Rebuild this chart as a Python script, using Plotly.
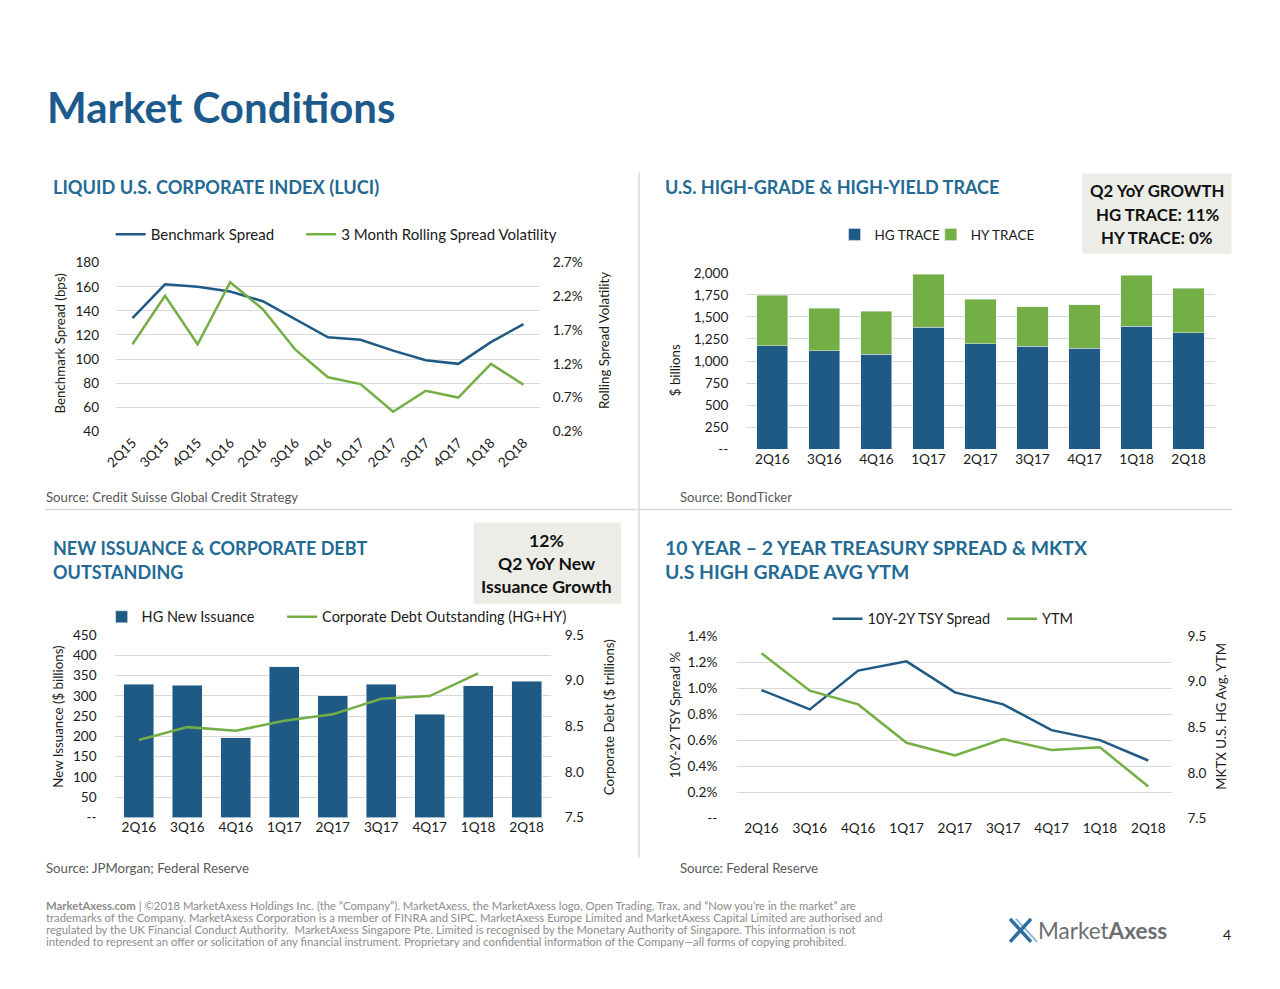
import plotly.graph_objects as go

W, H = 1280, 989
# empirical compensation of the page offset/scale seen in the rendered screenshot
AX, SX = 22.6, 0.988
AY, SY = 19.1, 0.9806
def px(x): return ((x - AX) / SX) / W
def py(y): return 1 - ((y - AY) / SY) / H

FONT = "Lato"
BLUE = "#1F5A85"
GREEN = "#74AF45"
GRID = "#D9D9D9"
HEAD = "#236A94"
TXT = "#1A1A1A"

# ---------------- data ----------------
luci_q = ["2Q15", "3Q15", "4Q15", "1Q16", "2Q16", "3Q16", "4Q16", "1Q17", "2Q17", "3Q17", "4Q17", "1Q18", "2Q18"]
benchmark_spread = [134, 162, 160, 156, 148, 133, 118, 116, 107, 99, 96, 114, 129]
rolling_vol = [1.49, 2.21, 1.49, 2.41, 2.01, 1.41, 1.00, 0.90, 0.49, 0.80, 0.70, 1.20, 0.89]

q9 = ["2Q16", "3Q16", "4Q16", "1Q17", "2Q17", "3Q17", "4Q17", "1Q18", "2Q18"]
hg_trace = [1174, 1117, 1076, 1383, 1193, 1167, 1144, 1394, 1322]
hy_trace = [572, 481, 488, 598, 504, 450, 492, 579, 504]

hg_issuance = [329, 326, 196, 372, 300, 328, 255, 325, 336]
corp_debt = [8.35, 8.49, 8.45, 8.56, 8.63, 8.80, 8.83, 9.08, None]

tsy_spread = [0.985, 0.837, 1.134, 1.205, 0.967, 0.875, 0.678, 0.601, 0.445]
ytm = [9.31, 8.90, 8.75, 8.33, 8.19, 8.37, 8.25, 8.28, 7.85]

luci_left_ticks = [40, 60, 80, 100, 120, 140, 160, 180]
luci_right_ticks = [0.2, 0.7, 1.2, 1.7, 2.2, 2.7]
trace_ticks = [0, 250, 500, 750, 1000, 1250, 1500, 1750, 2000]
iss_ticks = [0, 50, 100, 150, 200, 250, 300, 350, 400, 450]
debt_ticks = [7.5, 8.0, 8.5, 9.0, 9.5]
tsy_ticks = [0, 0.2, 0.4, 0.6, 0.8, 1.0, 1.2, 1.4]
ytm_ticks = [7.5, 8.0, 8.5, 9.0, 9.5]

fig = go.Figure()

# ---- Top-left: LUCI ----
fig.add_trace(go.Scatter(x=luci_q, y=benchmark_spread, mode="lines", name="Benchmark Spread",
                         line=dict(color=BLUE, width=2.5), xaxis="x", yaxis="y", legend="legend",
                         showlegend=True))
fig.add_trace(go.Scatter(x=luci_q, y=rolling_vol, mode="lines", name="3 Month Rolling Spread Volatility",
                         line=dict(color=GREEN, width=2.5), xaxis="x", yaxis="y2", legend="legend2",
                         showlegend=True))

# ---- Top-right: TRACE ----
fig.add_trace(go.Bar(x=q9, y=hg_trace, name="HG TRACE", marker_color=BLUE, width=0.6,
                     xaxis="x2", yaxis="y3", legend="legend3", showlegend=True))
fig.add_trace(go.Bar(x=q9, y=hy_trace, name="HY TRACE", marker_color=GREEN, width=0.6,
                     xaxis="x2", yaxis="y3", legend="legend4", showlegend=True))

# ---- Bottom-left: issuance ----
fig.add_trace(go.Bar(x=q9, y=hg_issuance, name="HG New Issuance", marker_color=BLUE, width=0.62,
                     xaxis="x3", yaxis="y4", legend="legend5", showlegend=True))
fig.add_trace(go.Scatter(x=q9, y=corp_debt, mode="lines", name="Corporate Debt Outstanding (HG+HY)",
                         line=dict(color=GREEN, width=2.5), xaxis="x3", yaxis="y5", legend="legend6",
                         showlegend=True))

# ---- Bottom-right: TSY spread & YTM ----
fig.add_trace(go.Scatter(x=q9, y=tsy_spread, mode="lines", name="10Y-2Y TSY Spread",
                         line=dict(color=BLUE, width=2.5), xaxis="x4", yaxis="y6", legend="legend7",
                         showlegend=True))
fig.add_trace(go.Scatter(x=q9, y=ytm, mode="lines", name="YTM",
                         line=dict(color=GREEN, width=2.5), xaxis="x4", yaxis="y7", legend="legend8",
                         showlegend=True))

tickf = dict(family=FONT, size=13.6, color=TXT)

def xax(domain, anchor, n, angle=0):
    return dict(domain=domain, anchor=anchor, type="category", range=[-0.5, n - 0.5],
                showgrid=False, zeroline=False, showline=False, ticks="",
                tickfont=tickf, tickangle=angle, fixedrange=True)

def yax_left(domain, anchor, rng, tickvals, ticktext, standoff):
    return dict(domain=domain, anchor=anchor, range=rng, tickvals=tickvals, ticktext=ticktext,
                showgrid=True, gridcolor=GRID, gridwidth=1, zeroline=False, showline=False,
                ticks="", tickfont=tickf, ticklabelstandoff=standoff, fixedrange=True)

def yax_right(overlay, anchor, rng, tickvals, ticktext, standoff):
    return dict(overlaying=overlay, anchor=anchor, side="right", range=rng, tickvals=tickvals,
                ticktext=ticktext, showgrid=False, zeroline=False, showline=False, ticks="",
                tickfont=tickf, ticklabelstandoff=standoff, fixedrange=True)

def pct(v, d=1):
    return f"{v:.{d}f}%"

layout = dict(
    width=W, height=H, margin=dict(l=0, r=0, t=0, b=0), showlegend=True,
    paper_bgcolor="white", plot_bgcolor="white", barmode="stack",
    font=dict(family=FONT, color=TXT),
    xaxis=xax([px(118.5), px(541)], "y", len(luci_q), angle=-45),
    yaxis=yax_left([py(433), py(265)], "x", [40, 180], luci_left_ticks,
                   [str(v) for v in luci_left_ticks], 16),
    yaxis2=yax_right("y", "x", [0.2, 2.7], luci_right_ticks, [pct(v) for v in luci_right_ticks], 12),
    xaxis2=xax([px(747), px(1214)], "y3", len(q9)),
    yaxis3=yax_left([py(451), py(275)], "x2", [0, 2000], trace_ticks,
                    ["--" if v == 0 else f"{v:,}" for v in trace_ticks], 17),
    xaxis3=xax([px(117), px(552)], "y4", len(q9)),
    yaxis4=yax_left([py(818), py(636)], "x3", [0, 450], iss_ticks,
                    ["--" if v == 0 else str(v) for v in iss_ticks], 17),
    yaxis5=yax_right("y4", "x3", [7.5, 9.5], debt_ticks, [f"{v:.1f}" for v in debt_ticks], 13),
    xaxis4=xax([px(738), px(1172)], "y6", len(q9)),
    yaxis6=yax_left([py(819), py(637)], "x4", [0, 1.4], tsy_ticks,
                    ["--" if v == 0 else pct(v) for v in tsy_ticks], 19),
    yaxis7=yax_right("y6", "x4", [7.5, 9.5], ytm_ticks, [f"{v:.1f}" for v in ytm_ticks], 14),
)

def leg(x, y, size):
    return dict(x=px(x), y=py(y), xanchor="left", yanchor="middle", orientation="h", visible=True,
                font=dict(family=FONT, size=size, color=TXT), bgcolor="rgba(0,0,0,0)",
                itemwidth=30, tracegroupgap=0)
# one legend per entry so each entry sits where the reference puts it
layout["legend"] = leg(113, 237, 15)
layout["legend2"] = leg(303, 237, 15)
layout["legend3"] = leg(835, 237, 13.5)
layout["legend4"] = leg(931, 237, 13.5)
layout["legend5"] = leg(104, 618, 14.5)
layout["legend6"] = leg(284, 618, 14.5)
layout["legend7"] = leg(828, 620, 14.5)
layout["legend8"] = leg(1002, 620, 14.5)

fig.update_layout(**layout)

# ---------------- text ----------------
def txt(x, y, s, size=12, color=TXT, anchor="left", angle=0, bold=False, yanchor="middle"):
    fig.add_annotation(x=px(x), y=py(y), xref="paper", yref="paper", text=(f"<b>{s}</b>" if bold else s),
                       showarrow=False, xanchor=anchor, yanchor=yanchor, textangle=angle,
                       font=dict(family=FONT, size=size, color=color))

txt(48, 110, "Market Conditions", size=42, color="#1D5A8C", bold=True)

txt(54, 190, "LIQUID U.S. CORPORATE INDEX (LUCI)", size=18.2, color=HEAD, bold=True)
txt(664, 190, "U.S. HIGH-GRADE &amp; HIGH-YIELD TRACE", size=18, color=HEAD, bold=True)
txt(54, 549, "NEW ISSUANCE &amp; CORPORATE DEBT", size=18, color=HEAD, bold=True)
txt(54, 573, "OUTSTANDING", size=18, color=HEAD, bold=True)
txt(664, 549, "10 YEAR – 2 YEAR TREASURY SPREAD &amp; MKTX", size=19.4, color=HEAD, bold=True)
txt(664, 573, "U.S HIGH GRADE AVG YTM", size=19.4, color=HEAD, bold=True)

# axis titles
AT = 13.3
txt(62, 346, "Benchmark Spread (bps)", size=AT, angle=-90, anchor="center")
txt(605, 342, "Rolling Spread Volatility", size=AT, angle=-90, anchor="center")
txt(676, 372, "$ billions", size=AT, angle=-90, anchor="center")
txt(61, 718, "New Issuance ($ billions)", size=AT, angle=-90, anchor="center")
txt(610, 718, "Corporate Debt ($ trillions)", size=AT, angle=-90, anchor="center")
txt(676, 716, "10Y-2Y TSY Spread %", size=AT, angle=-90, anchor="center")
txt(1221, 717, "MKTX U.S. HG Avg. YTM", size=AT, angle=-90, anchor="center")

# sources
SRC = "#595959"
txt(47, 499, "Source: Credit Suisse Global Credit Strategy", size=13.2, color=SRC)
txt(679, 499, "Source: BondTicker", size=13.2, color=SRC)
txt(47, 868, "Source: JPMorgan; Federal Reserve", size=13.2, color=SRC)
txt(679, 868, "Source: Federal Reserve", size=13.2, color=SRC)

# callout boxes
BOX = "#EDEDE8"
fig.add_shape(type="rect", xref="paper", yref="paper", x0=px(1082), x1=px(1231), y0=py(256), y1=py(176),
              fillcolor=BOX, line=dict(width=0), layer="below")
txt(1157, 193, "Q2 YoY GROWTH", size=16.8, bold=True, anchor="center", color="#111111")
txt(1157, 217, "HG TRACE: 11%", size=16.8, bold=True, anchor="center", color="#111111")
txt(1157, 240, "HY TRACE: 0%", size=16.8, bold=True, anchor="center", color="#111111")

fig.add_shape(type="rect", xref="paper", yref="paper", x0=px(475), x1=px(622), y0=py(605), y1=py(524),
              fillcolor=BOX, line=dict(width=0), layer="below")
txt(548, 542, "12%", size=17.6, bold=True, anchor="center", color="#111111")
txt(548, 565, "Q2 YoY New", size=17.6, bold=True, anchor="center", color="#111111")
txt(548, 588, "Issuance Growth", size=17.6, bold=True, anchor="center", color="#111111")

# dividers
fig.add_shape(type="line", xref="paper", yref="paper", x0=px(48), x1=px(1232), y0=py(511), y1=py(511),
              line=dict(color="#D9D9D9", width=1.5))
fig.add_shape(type="line", xref="paper", yref="paper", x0=px(640), x1=px(640), y0=py(175), y1=py(858),
              line=dict(color="#D9D9D9", width=1.5))

# footer
FOOT = "#8C8C8C"
foot_lines = [
    "<b>MarketAxess.com</b> | ©2018 MarketAxess Holdings Inc. (the “Company”). MarketAxess, the MarketAxess logo, Open Trading, Trax, and “Now you’re in the market” are",
    "trademarks of the Company. MarketAxess Corporation is a member of FINRA and SIPC. MarketAxess Europe Limited and MarketAxess Capital Limited are authorised and",
    "regulated by the UK Financial Conduct Authority.  MarketAxess Singapore Pte. Limited is recognised by the Monetary Authority of Singapore. This information is not",
    "intended to represent an offer or solicitation of any financial instrument. Proprietary and confidential information of the Company—all forms of copying prohibited.",
]
for i, s in enumerate(foot_lines):
    txt(47, 906 + 12 * i, s, size=11.3, color=FOOT)

# logo
fig.add_shape(type="line", xref="paper", yref="paper", x0=px(1010), y0=py(919), x1=px(1031), y1=py(942),
              line=dict(color="#2E6E9E", width=3.5))
fig.add_shape(type="line", xref="paper", yref="paper", x0=px(1016), y0=py(919), x1=px(1037), y1=py(942),
              line=dict(color="#8DB7D9", width=2))
fig.add_shape(type="line", xref="paper", yref="paper", x0=px(1031), y0=py(919), x1=px(1010), y1=py(942),
              line=dict(color="#2E6E9E", width=3.5))
txt(1036, 931, "Market<b>Axess</b>", size=22.5, color="#6D6E71")
txt(1226, 935, "4", size=14, color=TXT, anchor="center")

fig.write_html("out.html")
